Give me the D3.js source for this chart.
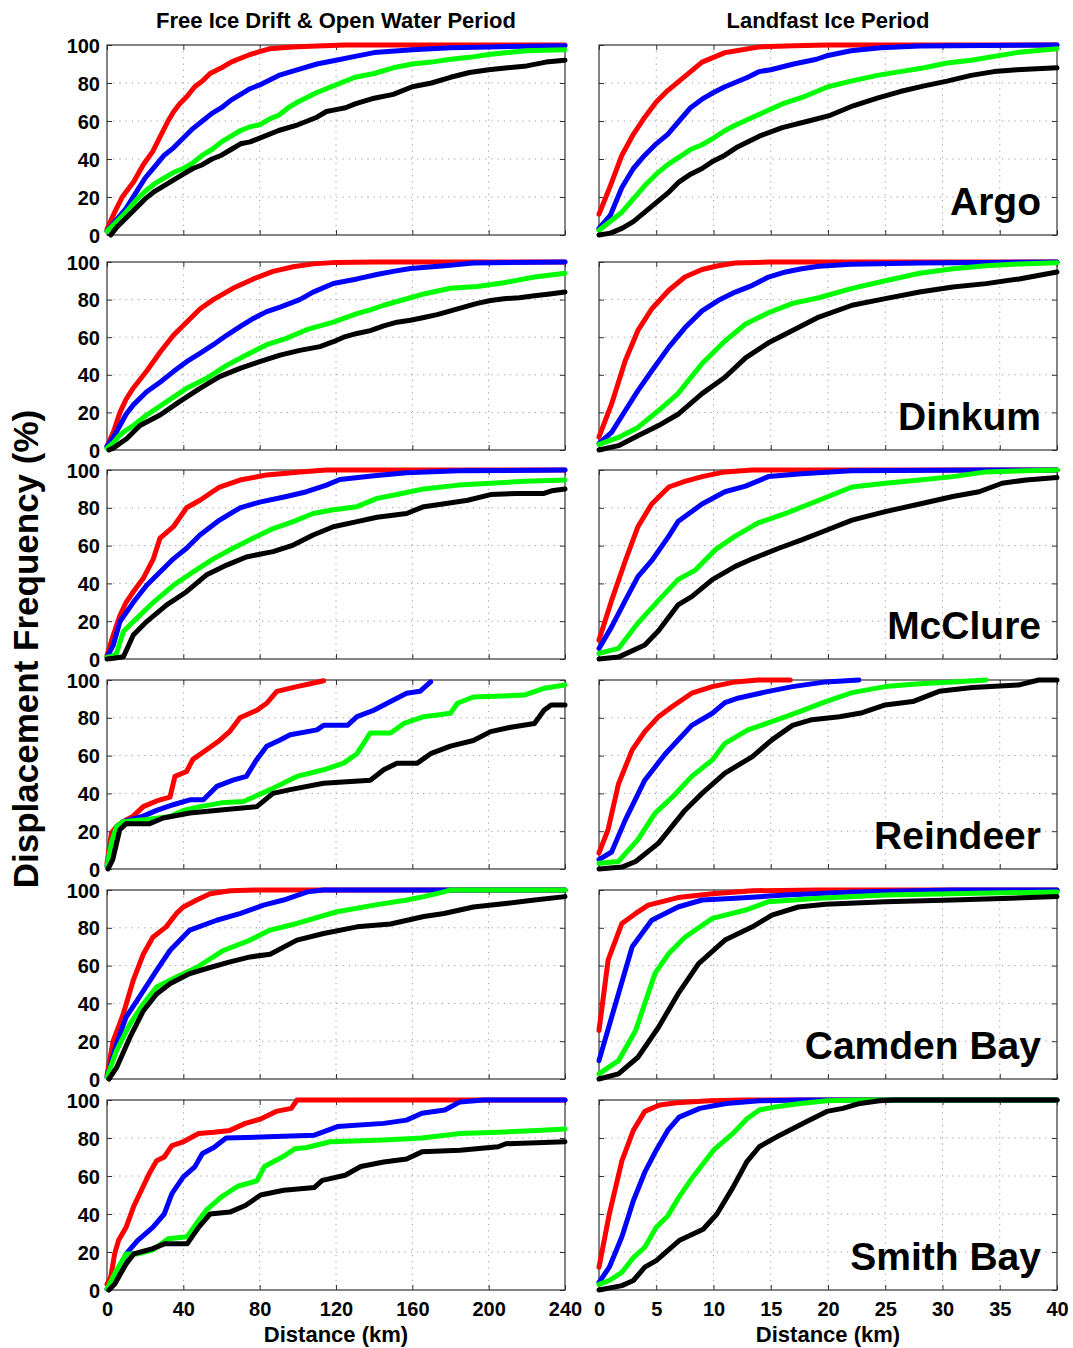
<!DOCTYPE html>
<html>
<head>
<meta charset="utf-8">
<script src="https://cdn.jsdelivr.net/npm/d3@7"></script>
<style>
  html, body { margin: 0; padding: 0; background: #fff; }
  svg { display: block; }
  text { font-family: "Liberation Sans", Arial, Helvetica, sans-serif; font-weight: bold; fill: #000; }
</style>
</head>
<body>
<svg id="chart" width="1073" height="1348"></svg>
<script>
// ---------------- DATA ----------------
const columnTitles = ["Free Ice Drift & Open Water Period", "Landfast Ice Period"];
const stations = ["Argo", "Dinkum", "McClure", "Reindeer", "Camden Bay", "Smith Bay"];
const yLabel = "Displacement Frequency (%)";
const xLabel = "Distance (km)";
const freeTicks = [0, 40, 80, 120, 160, 200, 240];
const fastTicks = [0, 5, 10, 15, 20, 25, 30, 35, 40];
const yTicks = [0, 20, 40, 60, 80, 100];
const seriesNames = ["red", "blue", "green", "black"];

// Argo
const argoFreeRed = [[0,3],[4,12],[8,20],[14,28],[19,37],[24,44],[28,52],[32,60],[35,65],[38,69],[42,73],[46,78],[50,81],[54,85],[60,88],[65,91],[70,93],[75,95],[80,96.5],[85,98],[97,99],[110,99.5],[125,100],[240,100]];
const argoFreeBlue = [[0,2],[5,8],[10,14],[15,22],[20,30],[25,36],[30,42],[35,46],[40,51],[45,56],[50,60],[55,64],[60,67],[65,71],[70,74],[75,77],[80,79],[90,84],[100,87],[110,90],[120,92],[130,94],[140,96],[160,97.5],[180,98.5],[200,99],[240,99.6]];
const argoFreeGreen = [[0,2],[5,7],[10,12],[15,18],[20,23],[25,27],[30,30],[35,33],[40,35],[45,38],[50,42],[55,45],[60,49],[65,52],[70,55],[75,57],[80,58],[85,61],[90,63],[95,67],[100,70],[110,75],[120,79],[130,83],[140,85],[150,88],[160,90],[170,91],[180,92.5],[190,93.5],[200,95],[210,96],[220,97],[240,97.5]];
const argoFreeBlack = [[2,0],[5,4],[10,9],[15,14],[20,19],[25,23],[30,26],[35,29],[40,32],[45,35],[50,37],[55,40],[60,42],[65,45],[70,48],[75,49],[80,51],[90,55],[100,58],[105,60],[110,62],[115,65],[120,66],[125,67],[130,69],[140,72],[150,74],[160,78],[170,80],[180,83],[190,85.5],[200,87],[210,88],[220,89],[230,91],[240,92]];
const argoFastRed = [[0,11],[1,26],[2,42],[3,53],[4,62],[5,70],[6,76],[7,81],[8,86],[9,91],[10,93.5],[11,96],[12,97],[14,99],[17,99.6],[20,100],[40,100]];
const argoFastBlue = [[0,3.5],[1,10.5],[2,25],[3,35],[4,42],[5,48],[6,53],[7,60],[8,67],[9,71.5],[10,75],[11,78],[12,80.5],[13,83],[14,86],[15,87],[17,90],[19,92.5],[20,94.5],[22,97],[24.6,98.5],[28,99.5],[40,100]];
const argoFastGreen = [[0,2.5],[2,12],[3,19],[4,26],[5,32],[6,37],[7,41],[8,45],[9,47.5],[10,51],[11,55],[12,58],[14,63.5],[16,69],[18,73],[20,78],[22,81],[24.3,84],[26.3,86],[28.4,88],[30.4,90.5],[32.5,92],[34.5,94],[36.5,96],[40,98]];
const argoFastBlack = [[0,0],[1,1],[2,3.5],[3,7],[4,12],[5,17],[6,22],[7,28],[8,32],[9,35],[10,39],[11,42],[12,46],[14,52],[16,56.5],[18.3,60],[20.2,63],[22.2,68],[24.3,72],[26.3,75.5],[28.4,78.5],[30.4,81],[32.5,84],[34.5,86],[36.5,87],[40,88]];

// Dinkum
const dinkumFreeRed = [[0,2],[3.5,10],[6.8,20],[10,27],[13.8,33],[20.8,42],[27.8,52],[34.8,61],[41.7,68],[48.7,75],[55.7,80],[66,86],[76.7,91],[87,95],[97.6,97.5],[108,99],[120,99.8],[140,100],[240,100]];
const dinkumFreeBlue = [[0,2],[3.5,7],[6.8,13],[10,19],[13.8,24],[20.8,31],[27.8,36],[34.8,41.7],[41.7,47],[48.7,51.4],[55.7,56],[62.7,61],[69.7,65.6],[76.7,70],[83.7,73.6],[90.7,76],[101,80],[108,84],[118.6,88.6],[131,91],[142,93.5],[150,95],[159,96.5],[177,98],[192,99.5],[240,100]];
const dinkumFreeGreen = [[0,1],[3.5,4],[6.8,8],[10,10.5],[13.8,13],[20.8,18.6],[31.3,25.7],[41.7,32.8],[52,38],[62.7,45],[73,50.5],[83.7,56],[94,59.4],[104.6,64],[118.6,68],[124,70],[131,72.5],[138,74.5],[145,77],[152,79],[159,81],[166,83],[180,86],[194,87],[208,89],[224,92],[240,94]];
const dinkumFreeBlack = [[1,0],[3.3,1],[6,3],[10.3,6],[17.3,13],[27.8,18.6],[38,25.7],[48.7,32.8],[59,39],[69.7,43.4],[80,47],[90.7,50.5],[101,53],[111.6,55],[118.6,57.6],[124,60],[131,62],[138,63.5],[145,66],[152,68],[159,69],[166,70.5],[173,72],[180,74],[187,76],[194,78],[201,79.5],[208,80.5],[216,81],[224,82],[232,83],[240,84]];
const dinkumFastRed = [[0,7],[1.1,24.5],[2.3,47.6],[3.4,63.6],[4.6,75],[6.1,85],[7.5,92],[9,96],[10.4,98],[11.9,99.5],[14.8,100],[40,100]];
const dinkumFastBlue = [[0,3.5],[1.1,9.4],[2.3,21],[3.4,31.6],[4.6,42],[6.1,54.7],[7.5,65],[9,74],[10.4,79.5],[11.9,84],[13.4,87.6],[14.8,92],[16.3,94.7],[17.7,96.4],[19.2,97.7],[22,98.8],[28,99.5],[40,100]];
const dinkumFastGreen = [[0,3],[1.7,6.7],[3.4,12],[5.2,21],[6.9,30],[9,46],[11,58],[12.8,67],[14.8,73],[16.9,78],[19.2,81],[22.1,86],[25,90],[28,94],[30.9,96.4],[33.8,98],[36.7,99],[40,99.6]];
const dinkumFastBlack = [[0,0],[1.7,2.3],[3.4,7.6],[5.2,13],[6.9,19],[9,30],[11,38.7],[12.8,49],[14.8,57],[16.9,63.6],[19.2,70.7],[22.1,77],[25,80.5],[28,84],[30.9,86.7],[33.8,88.5],[36.7,91],[40,94.7]];

// McClure
const mcclureFreeRed = [[0,2],[3.3,12.7],[6.8,23],[10,30],[13.8,35.6],[19,42.7],[24.3,53],[27.8,64],[34.8,70],[41.7,80],[48.7,84],[59,91],[69.7,94.7],[83.7,97.4],[101,99],[115,100],[240,100]];
const mcclureFreeBlue = [[0,1],[3.3,7.4],[6.8,19.8],[13.8,30],[20.8,39],[27.8,46],[34.8,53],[41.7,58.6],[48.7,65.6],[59,73.5],[69.7,80],[80,83],[94,86],[104.6,88.5],[115,92],[122,95],[140,97],[157,98.6],[184,99.6],[240,100]];
const mcclureFreeGreen = [[0,1],[3,1.5],[5,3],[8.6,14.5],[13.8,19.8],[24.3,30],[34.8,39],[45,46],[55.7,53],[66,58.6],[76.7,64],[87,69],[97.6,72.7],[108,77],[118.6,79],[131,80.6],[141.5,85],[152,87],[166,90],[184,92],[201,93],[219,94],[240,94.7]];
const mcclureFreeBlack = [[0,0],[3.3,0.4],[8.6,1.2],[13.8,12.7],[20.8,19.8],[31.3,28.6],[41.7,35.6],[52,44.4],[62.7,49.7],[73,54],[87,56.8],[97.6,60.3],[108,65.6],[118.6,70],[131,72.7],[141.5,75],[157,77],[166,80.6],[176,82],[189,84],[201,87],[215,87.6],[229,87.6],[233,89],[240,90]];
const mcclureFastRed = [[0,10],[1.1,31],[2.3,52],[3.4,70],[4.6,82],[6.1,91],[7.5,94],[9,96.5],[11,99],[13.4,100],[40,100]];
const mcclureFastBlue = [[0,5.6],[1.1,17],[2.3,31],[3.4,43.6],[4.6,52],[6.1,65],[6.9,72.7],[9,82],[11,88.5],[12.8,91.5],[14.8,96.5],[17.7,98],[22,99.6],[33.8,100],[40,100]];
const mcclureFastGreen = [[0,3],[1.7,5.6],[3.4,19],[5.2,31],[6.9,42],[8.4,47],[10.2,58],[11.9,65],[13.9,72],[16.3,77],[19.2,84],[22.1,91],[25,93],[28,94.7],[30.9,96.5],[33.8,99],[40,100]];
const mcclureFastBlack = [[0,0],[1.7,1],[4,7.4],[5.2,15],[6.9,28.6],[8.1,33],[9.9,42],[11.9,49],[13.4,53],[15.7,58.6],[17.7,63],[19.8,68],[22.1,73.5],[25,78],[28,82],[30.9,86],[33.2,88.5],[35.2,93],[37.3,94.7],[40,96]];

// Reindeer
const reindeerFreeRed = [[0,3],[2.3,19],[5,22.5],[8.4,25],[13.7,28],[19,33],[26,36],[33,38],[35.6,49],[41.7,51.6],[45,58],[52,63],[59,68],[64.5,73],[69.7,80],[78.5,84],[83.7,87.7],[89,94],[99.5,96.5],[106.5,98],[113.5,99.6]];
const reindeerFreeBlue = [[0,1.4],[2.3,14],[5,22.5],[8.4,25],[19,28],[26,31],[34.7,34],[43.4,36.6],[50.5,36.6],[57.5,43.7],[66,47],[73,49],[78.5,58],[83.7,65],[90.7,68.3],[96,71],[110,73.6],[113.5,76],[126,76],[131,80.6],[139.8,84],[148.6,88.6],[157,93],[164,94],[169.6,99]];
const reindeerFreeGreen = [[0,1.4],[2.3,14],[5,22.5],[8.4,25],[19,26],[33,27.8],[40,31],[48.7,33],[60,35],[71.5,35.7],[85.5,42],[99.5,49],[113.5,52.5],[124,56],[131,61],[138,72],[148.6,72],[155.6,77],[166,80.6],[180,82.4],[183.6,87.7],[192,91],[218.6,92],[229,95.6],[240,97.4]];
const reindeerFreeBlack = [[0.5,0],[3,5],[6.7,20.8],[10,24],[22.4,24],[29.4,27],[43.4,29.6],[61,31.3],[78.5,33],[87,40],[96,42],[113.5,45.4],[138,47],[145,52.5],[152,56],[162.6,56],[169.6,61],[180,65],[192,68],[201,72.7],[211.6,75],[224,77],[229,84],[232.7,86.8],[240,86.8]];
const reindeerFastRed = [[0,8.5],[0.8,21],[1.7,45],[2.9,63],[4,72.7],[5.2,80.6],[6.4,86],[8.1,93],[9.9,96.5],[11.9,99],[13.9,100],[16.7,100]];
const reindeerFastBlue = [[0,5],[1.1,9],[2.3,26],[4,47],[5.8,61],[8.1,76],[9.9,82.4],[11,88],[12.2,90.5],[14.8,94],[16.9,96.5],[19.8,99],[22.7,100]];
const reindeerFastGreen = [[0,3],[1.7,4],[3.4,15.5],[4.9,29.6],[6.4,38],[8.1,49],[9.9,57.7],[11,66.5],[13,73.6],[15.1,78],[17.4,83],[19.8,88.6],[22.1,93.3],[25,96.5],[28,98],[30.9,99],[33.8,100]];
const reindeerFastBlack = [[0,0],[2,1],[3.2,4],[5.2,13.7],[7.5,31],[9,40],[11,50.7],[13.4,59.5],[15.1,68.3],[16.9,76],[18.6,79],[21,80.6],[23,82.7],[25,86.8],[27.4,88.6],[29.7,94],[32.6,96],[36.7,97.4],[38.4,100],[40,100]];

// Camden Bay
const camdenFreeRed = [[0,2],[3.2,20],[8.4,34],[13.7,52],[19,66],[24,75],[31,80.5],[36.4,87.6],[40,91],[47,94.7],[54,98],[64.5,99.6],[78.5,100],[240,100]];
const camdenFreeBlue = [[0,1],[5,18.6],[10,32.7],[17,43.4],[26,57.5],[33,68],[43.4,78.8],[57.5,84],[70,87.6],[82,92],[92.5,94.7],[105,99],[113.5,100],[240,100]];
const camdenFreeGreen = [[0,1],[5,15],[12,29],[19,39.8],[26,48.7],[36.4,54],[47,59],[61,68],[75,73.5],[85.5,78.8],[99.5,82.3],[120.5,88.5],[140,92],[157,94.7],[166,96.5],[176.6,99],[180,100],[240,100]];
const camdenFreeBlack = [[1,0],[5,6],[12,22],[19,36],[26,45],[33,50.4],[43.4,55.8],[54,59],[64.5,62],[75,64.6],[85.5,66],[99.5,73.5],[113.5,77],[131,80.5],[148.6,82],[166,86],[176.6,87.6],[192,91],[210,93],[224,94.7],[240,96.5]];
const camdenFastRed = [[0,25.7],[0.8,63],[2,82.3],[3.2,87.6],[4.3,92],[6.9,96],[9.9,98],[13.4,99.6],[19.2,100],[40,100]];
const camdenFastBlue = [[0,9.7],[1.1,32.7],[2.9,70],[4.6,84],[6.9,91],[9,94.7],[11.9,95.6],[16.3,97.3],[22.1,99],[30.9,100],[40,100]];
const camdenFastGreen = [[0,2.7],[1.7,9.7],[3.2,25.7],[4.9,56],[6.1,66.4],[7.5,75],[9.9,85],[12.8,89.4],[14.8,93.8],[19.2,95.6],[25,97.3],[40,99]];
const camdenFastBlack = [[0,0],[1.7,2.7],[3.4,11.5],[5.2,27.4],[6.9,45],[8.7,61],[11,73.5],[13.4,80.5],[15.1,86.7],[17.4,91],[19.8,92.5],[25,93.8],[30.9,94.7],[40,96.5]];

// Smith Bay
const smithFreeRed = [[0,3],[2,7],[4,19],[6,26],[10,33],[14,44],[18,52.5],[22,61],[26,68],[30,70],[34,76],[40,78],[48,82.4],[56,83],[64.4,84],[72.5,87.7],[80.5,90],[88.6,94],[96.6,95.6],[99.6,100],[240,100]];
const smithFreeBlue = [[0,0.5],[4,5],[10,19],[16,26],[24,33],[30,40],[34,50.7],[40,59.5],[46,64.8],[50,71.8],[56,75],[62.4,80],[84.6,80.6],[108.7,81.5],[120.8,86],[145,87.7],[157,89.4],[165,93],[177,94.7],[185,99],[197.3,100],[240,100]];
const smithFreeGreen = [[0,0.5],[4,8.5],[10,19],[16,19],[24,21],[32,27],[42,28],[48,36.6],[52,42],[60,49],[68.5,54.6],[78.5,57.4],[82.5,65],[92.6,70.4],[98.6,74.4],[104.7,75],[116.8,78],[145,79],[165,80],[185,82.4],[205,83],[225.5,84],[240,84.7]];
const smithFreeBlack = [[1,0],[4,3],[10,13.7],[14,19],[24,21.8],[30,24.3],[42,24.3],[48,33],[54,40],[64.4,41],[72.5,44.5],[80.5,50],[92.6,52.5],[108.7,54],[112.8,57.7],[124.8,60.4],[133,65],[145,67.4],[157,69],[165,72.7],[185,73.6],[205,75.4],[209,77],[240,78]];
const smithFastRed = [[0,12],[0.9,40],[2,68],[3,84],[4,94],[5.3,97.4],[6.8,98.6],[9.7,99.6],[12.6,100],[40,100]];
const smithFastBlue = [[0,4],[0.9,12],[2,28],[3,47],[4,62],[5,73.6],[6,84],[7,91],[8.8,95.6],[11.1,98.2],[14,99.6],[17.6,100],[40,100]];
const smithFastGreen = [[0,3],[0.9,5],[2,9.3],[3,17],[4,22.5],[5,33],[6,39],[7,49],[8.2,59.5],[10,73.6],[11.7,82.4],[12.9,90],[14,94.7],[15.5,96.5],[17.6,98.2],[19.9,99.6],[22.8,100],[40,100]];
const smithFastBlack = [[0,0],[2,2.3],[3,5],[4,12],[5,15.5],[7,26],[9.1,32],[10.3,40],[11.7,54],[12.9,67.4],[14,75.4],[15.8,81.5],[18.1,88.5],[19.9,94],[21.3,95.6],[22.8,98.2],[24.5,99.6],[25.7,100],[40,100]];

// ---------------- LAYOUT ----------------
const panelRows = [
  [[argoFreeRed, argoFreeBlue, argoFreeGreen, argoFreeBlack], [argoFastRed, argoFastBlue, argoFastGreen, argoFastBlack]],
  [[dinkumFreeRed, dinkumFreeBlue, dinkumFreeGreen, dinkumFreeBlack], [dinkumFastRed, dinkumFastBlue, dinkumFastGreen, dinkumFastBlack]],
  [[mcclureFreeRed, mcclureFreeBlue, mcclureFreeGreen, mcclureFreeBlack], [mcclureFastRed, mcclureFastBlue, mcclureFastGreen, mcclureFastBlack]],
  [[reindeerFreeRed, reindeerFreeBlue, reindeerFreeGreen, reindeerFreeBlack], [reindeerFastRed, reindeerFastBlue, reindeerFastGreen, reindeerFastBlack]],
  [[camdenFreeRed, camdenFreeBlue, camdenFreeGreen, camdenFreeBlack], [camdenFastRed, camdenFastBlue, camdenFastGreen, camdenFastBlack]],
  [[smithFreeRed, smithFreeBlue, smithFreeGreen, smithFreeBlack], [smithFastRed, smithFastBlue, smithFastGreen, smithFastBlack]]
];

const colorMap = { red: "#ff0000", blue: "#0000ff", green: "#00ff00", black: "#000000" };
const rowTop = [45, 262, 470, 680, 890, 1100];
const rowBottom = [235, 450, 659, 869, 1079, 1290];
const colLeft = [107, 599];
const colRight = [565, 1057];
const xDomains = [[0, 240], [0, 40]];
const xTickSets = [freeTicks, fastTicks];

const svg = d3.select("#chart");

panelRows.forEach((row, r) => {
  row.forEach((seriesList, c) => {
    const x = d3.scaleLinear().domain(xDomains[c]).range([colLeft[c], colRight[c]]);
    const y = d3.scaleLinear().domain([0, 100]).range([rowBottom[r], rowTop[r]]);
    const g = svg.append("g");
    const w = colRight[c] - colLeft[c];
    const h = rowBottom[r] - rowTop[r];

    // grid
    const grid = g.append("g");
    xTickSets[c].slice(1, -1).forEach(t => {
      grid.append("line").attr("x1", x(t)).attr("x2", x(t))
        .attr("y1", rowTop[r]).attr("y2", rowBottom[r])
        .attr("stroke", "#9a9a9a").attr("stroke-width", 1).attr("stroke-dasharray", "1.2,5");
    });
    yTicks.slice(1, -1).forEach(t => {
      grid.append("line").attr("x1", colLeft[c]).attr("x2", colRight[c])
        .attr("y1", y(t)).attr("y2", y(t))
        .attr("stroke", "#9a9a9a").attr("stroke-width", 1).attr("stroke-dasharray", "1.2,5");
    });

    // axes (inward ticks) via d3 axis
    const tickLen = 5;
    const bottomAxis = d3.axisBottom(x).tickValues(xTickSets[c]).tickSize(-tickLen).tickPadding(12)
      .tickFormat(r === panelRows.length - 1 ? d3.format("d") : () => "");
    const gb = g.append("g").attr("transform", `translate(0,${rowBottom[r]})`).call(bottomAxis);
    const topAxis = d3.axisTop(x).tickValues(xTickSets[c]).tickSize(-tickLen).tickFormat(() => "");
    const gt = g.append("g").attr("transform", `translate(0,${rowTop[r]})`).call(topAxis);
    const leftAxis = d3.axisLeft(y).tickValues(yTicks).tickSize(-tickLen).tickPadding(12)
      .tickFormat(c === 0 ? d3.format("d") : () => "");
    const gl = g.append("g").attr("transform", `translate(${colLeft[c]},0)`).call(leftAxis);
    const rightAxis = d3.axisRight(y).tickValues(yTicks).tickSize(-tickLen).tickFormat(() => "");
    const gr = g.append("g").attr("transform", `translate(${colRight[c]},0)`).call(rightAxis);
    [gb, gt, gl, gr].forEach(ax => {
      ax.select(".domain").remove();
      ax.selectAll(".tick line").attr("stroke", "#333");
      ax.selectAll(".tick text").attr("font-size", 20).attr("font-weight", "bold")
        .attr("font-family", "Liberation Sans, Arial, sans-serif").attr("fill", "#000");
    });
    gb.selectAll(".tick text").attr("dy", "0.71em").attr("y", 12);
    gl.selectAll(".tick text").attr("x", -7).attr("dy", "0.35em");

    // frame
    g.append("rect").attr("x", colLeft[c]).attr("y", rowTop[r]).attr("width", w).attr("height", h)
      .attr("fill", "none").attr("stroke", "#333").attr("stroke-width", 1.2);

    // series
    const line = d3.line().x(d => x(d[0])).y(d => y(d[1]));
    seriesList.forEach((data, i) => {
      g.append("path").datum(data).attr("d", line)
        .attr("fill", "none").attr("stroke", colorMap[seriesNames[i]])
        .attr("stroke-width", 5).attr("stroke-linejoin", "round").attr("stroke-linecap", "round");
    });

    // station label
    if (c === 1) {
      g.append("text").attr("x", 1041).attr("y", rowBottom[r] - 20)
        .attr("text-anchor", "end").attr("font-size", 39).text(stations[r]);
    }
  });
});

// column titles and x labels
[336, 828].forEach((cx, i) => {
  svg.append("text").attr("x", cx).attr("y", 28).attr("text-anchor", "middle")
    .attr("font-size", 22).text(columnTitles[i]);
  svg.append("text").attr("x", cx).attr("y", 1342).attr("text-anchor", "middle")
    .attr("font-size", 22).text(xLabel);
});

// y label
svg.append("text").attr("transform", "translate(38,649) rotate(-90)")
  .attr("text-anchor", "middle").attr("font-size", 35).text(yLabel);
</script>
</body>
</html>
